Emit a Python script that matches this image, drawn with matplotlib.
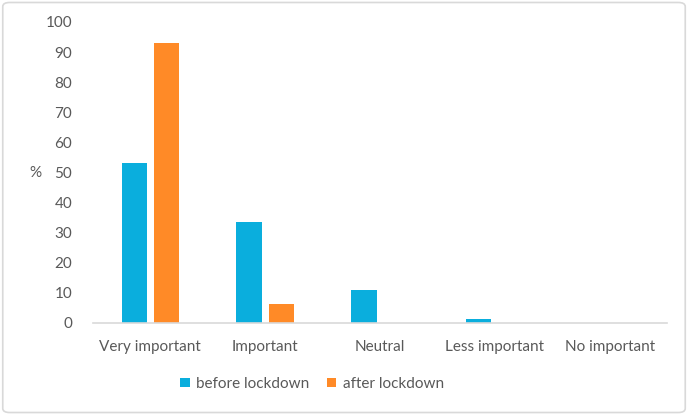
import matplotlib
matplotlib.use("Agg")
import matplotlib.pyplot as plt
from matplotlib.patches import FancyBboxPatch
import numpy as np

categories = ["Very important", "Important", "Neutral", "Less important", "No important"]
before = [53, 33.5, 11, 1.3, 0]
after = [93, 6.3, 0, 0, 0]
series_names = ["before lockdown", "after lockdown"]
colors = ["#0AAEDD", "#FF8A27"]

plt.rcParams['font.family'] = ['Lato', 'DejaVu Sans']
txt = "#595959"
fs = 11

fig = plt.figure(figsize=(6.88, 4.15), dpi=100)
ax = fig.add_axes([0.135, 0.2217, 0.8345, 0.7253])

x = np.arange(len(categories))
w = 0.22
off = 0.14
ax.bar(x - off, before, w, color=colors[0], label=series_names[0])
ax.bar(x + off, after, w, color=colors[1], label=series_names[1])

ax.set_xlim(-0.5, len(categories) - 0.5)
ax.set_ylim(0, 100)
ax.set_yticks(np.arange(0, 101, 10))
ax.set_xticks(x)
ax.set_xticklabels(categories)
ax.tick_params(axis='both', length=0, colors=txt, labelsize=fs)
ax.tick_params(axis='y', pad=15)
ax.tick_params(axis='x', pad=12)
for s in ["top", "right", "left"]:
    ax.spines[s].set_visible(False)
ax.spines["bottom"].set_color("#D9D9D9")
ax.spines["bottom"].set_linewidth(1.2)

fig.text(35/688, 1 - 173/415, "%", color=txt, fontsize=fs, ha="center", va="center")

leg = fig.legend(loc="center", bbox_to_anchor=(312/688, 1 - 384/415), ncol=2,
                 frameon=False, fontsize=fs, handlelength=0.6, handleheight=0.6,
                 handletextpad=0.4, columnspacing=1.2)
for t in leg.get_texts():
    t.set_color(txt)

border = FancyBboxPatch((0.004, 0.006), 0.992, 0.988, boxstyle="round,pad=0,rounding_size=0.01",
                        transform=fig.transFigure, fill=False, edgecolor="#D9D9D9", linewidth=1.2)
fig.patches.append(border)

fig.savefig("out.png", dpi=100)
